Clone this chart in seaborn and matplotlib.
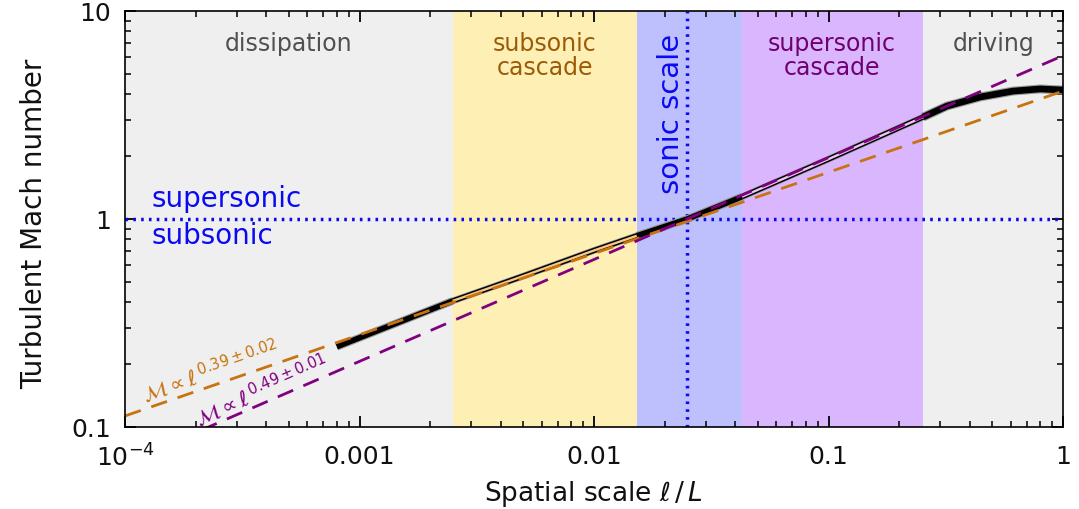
import numpy as np
import matplotlib
matplotlib.use("Agg")
import matplotlib.pyplot as plt
import matplotlib.patheffects as pe
from matplotlib.ticker import FixedLocator, FixedFormatter, LogLocator, NullFormatter
import seaborn as sns

sns.set_theme(style="ticks")
plt.rcParams['font.family'] = ['DejaVu Sans']
plt.rcParams['mathtext.fontset'] = 'dejavusans'
plt.rcParams.update({
    'xtick.direction': 'in', 'ytick.direction': 'in',
    'xtick.top': True, 'ytick.right': True,
    'xtick.bottom': True, 'ytick.left': True,
    'xtick.major.size': 8, 'ytick.major.size': 8,
    'xtick.minor.size': 4.5, 'ytick.minor.size': 4.5,
    'xtick.major.width': 1.3, 'ytick.major.width': 1.3,
    'xtick.minor.width': 1.1, 'ytick.minor.width': 1.1,
    'xtick.color': 'black', 'ytick.color': 'black',
    'xtick.minor.visible': True, 'ytick.minor.visible': True,
    'axes.axisbelow': False,
})

# ---- data ----
region_edges = [1e-4, 0.0025, 0.0152, 0.0428, 0.253, 1.0]
region_colors = ['#efefef', '#fef0b4', '#bec0fd', '#d9b6fd', '#efefef']
region_names = ['dissipation', 'subsonic\ncascade', 'sonic scale', 'supersonic\ncascade', 'driving']

scale = [0.0008, 0.0025, 0.005, 0.01, 0.0152, 0.025, 0.0428, 0.1, 0.253,
         0.32, 0.443, 0.612, 0.8, 1.0]
mach = [0.243, 0.404, 0.532, 0.706, 0.83, 1.0, 1.28, 1.94, 3.09,
        3.49, 3.86, 4.12, 4.22, 4.17]

fit_sub_x = [1e-4, 1.0]
fit_sub_y = [0.113, 4.12]
fit_sup_x = [1e-4, 1.0]
fit_sup_y = [0.0669, 6.1]

sonic_scale = 0.025
sonic_mach = 1.0

xticks = [1e-4, 1e-3, 1e-2, 1e-1, 1.0]
xticklabels = [r'$10^{-4}$', '0.001', '0.01', '0.1', '1']
yticks = [0.1, 1.0, 10.0]
yticklabels = ['0.1', '1', '10']

# ---- figure ----
fig = plt.figure(figsize=(10.79, 5.10), dpi=100)
ax = fig.add_axes([125/1079, 82/510, 938/1079, 416/510])
ax.set_xscale('log')
ax.set_yscale('log')
ax.set_xlim(1e-4, 1.0)
ax.set_ylim(0.1, 10.0)
ax.set_axisbelow(False)

for i in range(len(region_colors)):
    ax.axvspan(region_edges[i], region_edges[i+1], color=region_colors[i], lw=0, zorder=0)

# sonic lines
blue = '#0a0af0'
ax.axhline(sonic_mach, color=blue, lw=2.5, linestyle=(0, (0.75, 1.5)), zorder=3)
ax.axvline(sonic_scale, color=blue, lw=2.5, linestyle=(0, (0.75, 1.5)), zorder=3)

# measured curve by segments
sx = np.array(scale)
sy = np.array(mach)
inner_cols = [None, '#f5c886', None, '#ecc4f8', None]
for i in range(5):
    lo, hi = region_edges[i], region_edges[i+1]
    m = (sx >= lo - 1e-12) & (sx <= hi + 1e-12)
    if m.sum() < 2:
        continue
    if inner_cols[i] is None:
        lw = 4.0 if i < 4 else 4.8
        sns.lineplot(x=sx[m], y=sy[m], ax=ax, color='black', linewidth=lw, sort=False,
                     estimator=None, solid_capstyle='butt', zorder=4,
                     path_effects=[pe.Stroke(linewidth=lw+1.6, foreground='#9a9a9a'), pe.Normal()])
    else:
        sns.lineplot(x=sx[m], y=sy[m], ax=ax, color='black', linewidth=3.8, sort=False,
                     estimator=None, solid_capstyle='butt', zorder=4,
                     path_effects=[pe.Stroke(linewidth=4.8, foreground='#9a9a9a'), pe.Normal()])
        sns.lineplot(x=sx[m], y=sy[m], ax=ax, color=inner_cols[i], linewidth=1.7, sort=False,
                     estimator=None, solid_capstyle='butt', zorder=5)

# fit lines
ax.plot(fit_sub_x, fit_sub_y, color='#c8730f', lw=2.0, linestyle=(0, (6, 4)), zorder=6)
ax.plot(fit_sup_x, fit_sup_y, color='#800080', lw=2.0, linestyle=(0, (6, 4)), zorder=6)

# region labels
fs = 17
ax.text(5.0e-4, 6.49, region_names[0], color='#505050', ha='center', va='baseline', fontsize=fs, zorder=7)
ax.text(0.504, 6.49, region_names[4], color='#505050', ha='center', va='baseline', fontsize=fs, zorder=7)
for (xc, txt, col) in [(0.00618, region_names[1], '#9c5a08'), (0.1035, region_names[3], '#700070')]:
    l1, l2 = txt.split('\n')
    ax.text(xc, 6.49, l1, color=col, ha='center', va='baseline', fontsize=fs, zorder=7)
    ax.text(xc, 4.98, l2, color=col, ha='center', va='baseline', fontsize=fs, zorder=7)
ax.text(0.0213, 3.25, region_names[2], color=blue, rotation=90, ha='center', va='center',
        fontsize=21, zorder=7)
ax.text(1.30e-4, 1.155, 'supersonic', color=blue, ha='left', va='baseline', fontsize=20, zorder=7)
ax.text(1.30e-4, 0.767, 'subsonic', color=blue, ha='left', va='baseline', fontsize=20, zorder=7)

# fit labels
ax.text(2.31e-4, 0.188, r'$\mathcal{M}\propto\ell^{\,0.39\pm0.02}$', color='#c8730f',
        rotation=19.1, rotation_mode='anchor', ha='center', va='center', fontsize=15, zorder=7)
ax.text(3.84e-4, 0.151, r'$\mathcal{M}\propto\ell^{\,0.49\pm0.01}$', color='#800080',
        rotation=23.5, rotation_mode='anchor', ha='center', va='center', fontsize=15, zorder=7)

# ticks
ax.xaxis.set_major_locator(FixedLocator(xticks))
ax.xaxis.set_major_formatter(FixedFormatter(xticklabels))
ax.xaxis.set_minor_locator(LogLocator(base=10, subs=np.arange(2, 10), numticks=20))
ax.xaxis.set_minor_formatter(NullFormatter())
ax.yaxis.set_major_locator(FixedLocator(yticks))
ax.yaxis.set_major_formatter(FixedFormatter(yticklabels))
ax.yaxis.set_minor_locator(LogLocator(base=10, subs=np.arange(2, 10), numticks=20))
ax.yaxis.set_minor_formatter(NullFormatter())
ax.tick_params(which='both', direction='in', top=True, right=True, bottom=True, left=True)
ax.tick_params(axis='x', which='major', pad=12, labelsize=18, labelcolor='#111111')
ax.tick_params(axis='y', which='major', pad=10, labelsize=18, labelcolor='#111111')
for s in ax.spines.values():
    s.set_linewidth(1.2)
    s.set_color('black')
    s.set_zorder(9)

ax.set_xlabel(r'Spatial scale $\ell\,/\,L$', fontsize=19, color='#111111')
ax.set_ylabel('Turbulent Mach number', fontsize=20, color='#111111')
ax.xaxis.set_label_coords(0.499, -0.122)
ax.yaxis.set_label_coords(-0.082, 0.49)

fig.savefig('out.png', dpi=100)
